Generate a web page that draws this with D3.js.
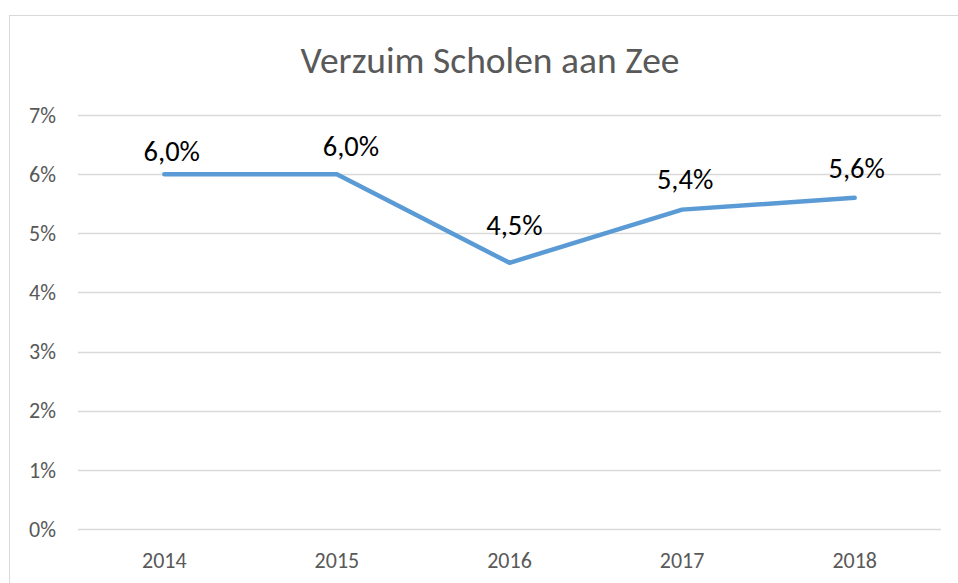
<!DOCTYPE html>
<html><head><meta charset="utf-8">
<script src="https://cdn.jsdelivr.net/npm/d3@7"></script>
<style>body{margin:0;background:#fff}svg{display:block}text{font-family:Carlito,Calibri,"Open Sans","Liberation Sans",sans-serif}</style>
</head><body><svg id="c" width="958" height="583"></svg>
<script>
(function(){
const title = "Verzuim Scholen aan Zee";
const years = ["2014","2015","2016","2017","2018"];
const values = [6.0, 6.0, 4.5, 5.4, 5.6];
const yTicks = [0,1,2,3,4,5,6,7];
// manual data-label placement (layout only)
const labelDx = [7.5, 14, 5, 3, 2];
const labelDy = [-13, -18, -28, -21, -20];

const svg = d3.select("#c");
svg.append("rect").attr("x",9.5).attr("y",15.5).attr("width",960).attr("height",600)
  .attr("fill","#fff").attr("stroke","#d9d9d9").attr("stroke-width",1);

const pLeft=78, pRight=941, pTop=115, pBottom=529;
const x = d3.scaleBand().domain(years).range([pLeft,pRight]);
const y = d3.scaleLinear().domain([0,7]).range([pBottom,pTop]);

svg.append("text").attr("x",490).attr("y",73).attr("text-anchor","middle")
  .attr("fill","#595959").attr("font-size",37.5).text(title);

const g = svg.append("g");
g.selectAll("line.grid").data(yTicks).join("line").attr("class","grid")
  .attr("x1",pLeft).attr("x2",pRight).attr("y1",d=>Math.round(y(d))+0.5).attr("y2",d=>Math.round(y(d))+0.5)
  .attr("stroke","#d9d9d9").attr("stroke-width",1.5);

g.selectAll("text.yl").data(yTicks).join("text").attr("class","yl")
  .attr("x",56).attr("y",d=>y(d)).attr("dy","0.35em").attr("text-anchor","end")
  .attr("fill","#595959").attr("font-size",22).text(d=>d+"%");

g.selectAll("text.xl").data(years).join("text").attr("class","xl")
  .attr("x",d=>x(d)+x.bandwidth()/2).attr("y",568).attr("text-anchor","middle")
  .attr("fill","#595959").attr("font-size",22).text(d=>d);

const line = d3.line().x((d,i)=>x(years[i])+x.bandwidth()/2).y(d=>y(d));
g.append("path").datum(values).attr("d",line).attr("fill","none")
  .attr("stroke","#5b9bd5").attr("stroke-width",4.5).attr("stroke-linecap","round").attr("stroke-linejoin","round");

g.selectAll("text.dl").data(values).join("text").attr("class","dl")
  .attr("x",(d,i)=>x(years[i])+x.bandwidth()/2+labelDx[i]).attr("y",(d,i)=>y(d)+labelDy[i]).attr("text-anchor","middle")
  .attr("fill","#000").attr("font-size",28.5).text(d=>d.toFixed(1).replace(".",",")+"%");
})();
</script></body></html>
